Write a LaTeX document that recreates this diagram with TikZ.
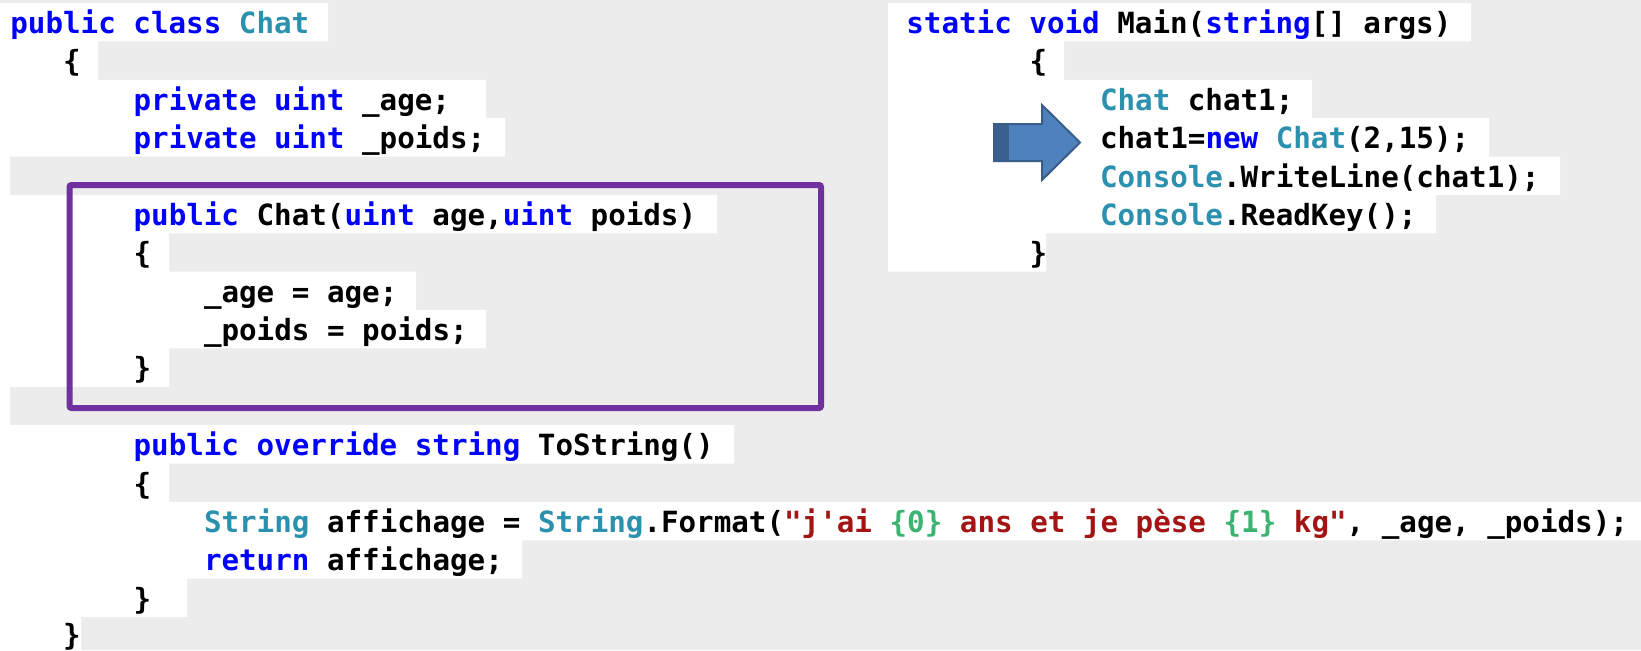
\documentclass[tikz,border=0pt]{standalone}
\usepackage{fontspec}
\setmonofont{DejaVu Sans Mono}

\definecolor{bggray}{HTML}{ECECEC}
\definecolor{kwblue}{HTML}{0000FF}
\definecolor{typeteal}{HTML}{2B91AF}
\definecolor{strred}{HTML}{A31515}
\definecolor{fmtgreen}{HTML}{3CB371}
\definecolor{boxpurple}{HTML}{7030A0}
\definecolor{arrowfill}{HTML}{4F81BD}
\definecolor{arrowline}{HTML}{385D8A}
\definecolor{arrowdark}{HTML}{3A5F8E}

\newcommand{\kw}[1]{\textcolor{kwblue}{#1}}
\newcommand{\ty}[1]{\textcolor{typeteal}{#1}}
\newcommand{\strg}[1]{\textcolor{strred}{#1}}
\newcommand{\fm}[1]{\textcolor{fmtgreen}{#1}}

\begin{document}
\begin{tikzpicture}[
    x=0.5pt, y=-0.5pt,
    code_style/.style={anchor=base west, inner sep=0pt,
        font=\ttfamily\bfseries\fontsize{14.6}{17}\selectfont\frenchspacing},
    strip_style/.style={fill=white},
    box_style/.style={draw=boxpurple, line width=3pt, rounded corners=1pt},
    arrow_style/.style={fill=arrowfill, draw=arrowline, line width=1pt, line join=miter}
]

    \useasboundingbox (0,0) rectangle (1641,650);
    \fill[bggray] (0,0) rectangle (1641,650);

    % Line strips, class Chat
    \fill[strip_style] (0,3) rectangle (328,41.4)
        (0,41.4) rectangle (98,79.8)
        (0,79.8) rectangle (486,118.1)
        (0,118.1) rectangle (505,156.5)
        (0,156.5) rectangle (10,194.9)
        (0,194.9) rectangle (717,233.3)
        (0,233.3) rectangle (169,271.6)
        (0,271.6) rectangle (416,310)
        (0,310) rectangle (486,348.4)
        (0,348.4) rectangle (169,386.8)
        (0,386.8) rectangle (10,425.1)
        (0,425.1) rectangle (734,463.5)
        (0,463.5) rectangle (169,501.9)
        (0,501.9) rectangle (1641,540.3)
        (0,540.3) rectangle (522,578.6)
        (0,578.6) rectangle (187,617)
        (0,617) rectangle (81,650);

    % Line strips, Main
    \fill[strip_style] (888,3) rectangle (1471,41.4)
        (888,41.4) rectangle (1064,79.8)
        (888,79.8) rectangle (1312,118.1)
        (888,118.1) rectangle (1489,156.5)
        (888,156.5) rectangle (1560,194.9)
        (888,194.9) rectangle (1436,233.3)
        (888,233.3) rectangle (1046,271.6);

    % Class Chat
    \node[code_style] (chat_decl) at (10,33.5) {\kw{public} \kw{class} \ty{Chat}};
    \node[code_style] (chat_open) at (62.8,71.9) {\{};
    \node[code_style] (age_field) at (133.2,110.3) {\kw{private} \kw{uint} \_age;};
    \node[code_style] (poids_field) at (133.2,148.6) {\kw{private} \kw{uint} \_poids;};

    \node[code_style] (ctor_head) at (133.2,225.4) {\kw{public} Chat(\kw{uint} age,\kw{uint} poids)};
    \node[code_style] (ctor_open) at (133.2,263.8) {\{};
    \node[code_style] (ctor_age) at (203.6,302.1) {\_age = age;};
    \node[code_style] (ctor_poids) at (203.6,340.5) {\_poids = poids;};
    \node[code_style] (ctor_close) at (133.2,378.9) {\}};

    \node[code_style] (tostr_head) at (133.2,455.6) {\kw{public} \kw{override} \kw{string} ToString()};
    \node[code_style] (tostr_open) at (133.2,494) {\{};
    \node[code_style] (tostr_fmt) at (203.6,532.4) {\ty{String} affichage = \ty{String}.Format(\strg{"j'ai} \fm{\{0\}} \strg{ans et je pèse} \fm{\{1\}} \strg{kg"}, \_age, \_poids);};
    \node[code_style] (tostr_ret) at (203.6,570.8) {\kw{return} affichage;};
    \node[code_style] (tostr_close) at (133.2,609.1) {\}};
    \node[code_style] (chat_close) at (62.8,645.5) {\}};

    % Main
    \node[code_style] (main_head) at (906,33.5) {\kw{static} \kw{void} Main(\kw{string}[] args)};
    \node[code_style] (main_open) at (1029.2,71.9) {\{};
    \node[code_style] (main_decl) at (1099.6,110.3) {\ty{Chat} chat1;};
    \node[code_style] (main_new) at (1099.6,148.6) {chat1=\kw{new} \ty{Chat}(2,15);};
    \node[code_style] (main_write) at (1099.6,187) {\ty{Console}.WriteLine(chat1);};
    \node[code_style] (main_read) at (1099.6,225.4) {\ty{Console}.ReadKey();};
    \node[code_style] (main_close) at (1029.2,263.8) {\}};

    % Constructor frame
    \draw[box_style] (69.5,185) rectangle (821,408);

    % Block arrow
    \draw[arrow_style] (994,124) -- (1042,124) -- (1042,105) -- (1080,142.5)
        -- (1042,180) -- (1042,161) -- (994,161) -- cycle;
    \fill[arrowdark] (995,125) rectangle (1009,160);

\end{tikzpicture}
\end{document}
